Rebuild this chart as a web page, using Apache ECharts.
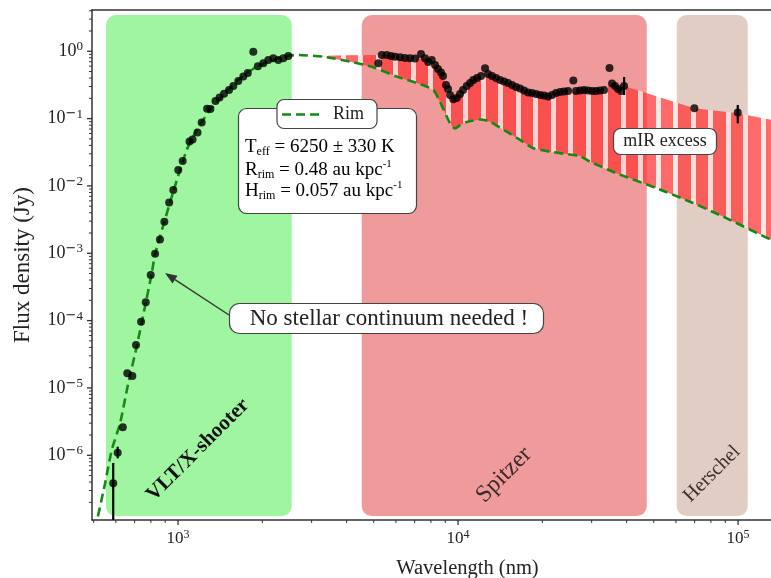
<!DOCTYPE html>
<html><head><meta charset="utf-8">
<script src="https://cdn.jsdelivr.net/npm/echarts@6/dist/echarts.min.js"></script>
<style>html,body{margin:0;padding:0;background:#fff}#c{width:771px;height:578px}</style>
</head><body><div id="c"></div>
<script>
// ---------------- data ----------------
const xTickExponents = [3, 4, 5];
const yTickExponents = [-6, -5, -4, -3, -2, -1, 0];
const xMajorTicks = [1e3, 1e4, 1e5];
const yMajorTicks = [1e-6, 1e-5, 1e-4, 1e-3, 1e-2, 1e-1, 1e0];
const minorMultipliers = [2, 3, 4, 5, 6, 7, 8, 9];
const xMinorDecades = [1e2, 1e3, 1e4, 1e5];
const yMinorDecades = [1e-7, 1e-6, 1e-5, 1e-4, 1e-3, 1e-2, 1e-1, 1e0];

// wavelength (nm), flux (Jy)
const vltPhotometry = [[587,3.84e-7],[609,1.09e-6],[635,2.6e-6],[659,1.65e-5],[687,1.5e-5],[708,4.35e-5],[738,9.6e-5],[767,1.87e-4],[799,4.76e-4],[828,9.8e-4],[862,1.60e-3],[894,2.94e-3],[930,5.68e-3],[962,8.71e-3],[1002,1.73e-2],[1039,2.35e-2],[1099,4.57e-2],[1127,4.90e-2],[1174,6.22e-2],[1215,8.76e-2],[1270,0.140],[1305,0.139],[1361,0.183],[1407,0.206],[1460,0.234],[1521,0.266],[1576,0.305],[1642,0.362],[1711,0.422],[1775,0.476],[1857,0.987],[1928,0.601],[2017,0.663],[2101,0.743],[2190,0.787],[2281,0.743],[2377,0.787],[2477,0.851]];

const spitzerSpectrum = [[5193,0.663],[5340,0.881],[5565,0.881],[5764,0.852],[5957,0.831],[6207,0.815],[6467,0.795],[6739,0.787],[7022,0.782],[7376,0.912],[7622,0.787],[7832,0.694],[8055,0.743],[8277,0.626],[8483,0.546],[8695,0.484],[8840,0.430],[9061,0.316],[9211,0.275],[9364,0.224],[9621,0.194],[9894,0.202],[10165,0.232],[10420,0.266],[10742,0.305],[11037,0.338],[11340,0.375],[11692,0.401],[12082,0.430],[12486,0.559],[12800,0.460],[13228,0.430],[13671,0.401],[14125,0.375],[14598,0.356],[15087,0.338],[15591,0.316],[16111,0.295],[16651,0.280],[17209,0.262],[17783,0.244],[18378,0.240],[18994,0.232],[19630,0.224],[20287,0.221],[20966,0.213],[21669,0.224],[22387,0.240],[23137,0.249],[23913,0.253],[24714,0.257],[25807,0.368],[26385,0.257],[27270,0.262],[28184,0.266],[29125,0.262],[30101,0.257],[31109,0.257],[32145,0.262],[33220,0.266],[34754,0.565],[35481,0.332],[36365,0.305],[37276,0.275],[38205,0.257],[39170,0.305]];

const herschelPhotometry = [[69823,0.142],[99750,0.123]];

// [wavelength, low, high]
const errorBars = [[587,5e-8,7.7e-7],[609,9.0e-7,1.34e-6],[39170,0.224,0.415],[99750,0.0852,0.159]];

const rimModel = [[505,7.76e-8],[549,3.84e-7],[580,1.20e-6],[621,2.98e-6],[664,1.17e-5],[712,4.10e-5],[762,1.61e-4],[806,5.05e-4],[828,9.66e-4],[962,8.22e-3],[1074,3.42e-2],[1166,6.78e-2],[1301,0.134],[1451,0.224],[1665,0.397],[1910,0.590],[2190,0.743],[2444,0.851],[2654,0.881],[3303,0.831],[4115,0.701],[4983,0.579],[6040,0.420],[7316,0.327],[8163,0.266],[8625,0.177],[9061,0.113],[9441,0.0801],[9757,0.0713],[10165,0.0801],[10742,0.0891],[11985,0.0971],[13013,0.0900],[14927,0.0639],[16651,0.0482],[18578,0.0362],[21310,0.0323],[25807,0.0288],[27270,0.0279],[29610,0.0229],[36878,0.0154],[51250,0.00923],[67390,0.00583],[88620,0.00349],[131200,0.00158],[160000,0.00106]];

// top edge of the hatched "mIR excess" region
const excessUpper = [[3100,0.85],[4000,0.87],[5340,0.881],[5565,0.881],[5764,0.852],[5957,0.831],[6207,0.815],[6467,0.795],[6739,0.787],[7022,0.782],[7622,0.787],[8055,0.743],[8277,0.626],[8483,0.546],[8695,0.484],[8840,0.430],[9061,0.316],[9364,0.224],[9621,0.194],[9894,0.202],[10165,0.232],[10420,0.266],[10742,0.305],[11037,0.338],[11340,0.375],[11692,0.401],[12082,0.430],[12800,0.460],[13228,0.430],[13671,0.401],[14125,0.375],[14598,0.356],[15087,0.338],[15591,0.316],[16111,0.295],[16651,0.280],[17209,0.262],[17783,0.244],[18378,0.240],[18994,0.232],[19630,0.224],[20287,0.221],[20966,0.213],[21669,0.224],[22387,0.240],[23137,0.249],[23913,0.253],[24714,0.257],[26385,0.257],[27270,0.262],[28184,0.266],[29125,0.262],[30101,0.257],[31109,0.257],[32145,0.262],[33220,0.266],[35481,0.332],[36365,0.305],[37276,0.275],[38205,0.257],[39170,0.305],[69823,0.142],[99750,0.12],[160000,0.082]];

// instrument bands: [from nm, to nm, low Jy, high Jy]
const bandNames = ['VLT/X-shooter', 'Spitzer', 'Herschel'];
const bandRanges = [[553,2547,1.25e-7,3.46],[4529,47200,1.25e-7,3.46],[60400,108300,1.25e-7,3.46]];

// ---------------- styles ----------------
const FONT = 'Liberation Serif';
const bandColors = ['#a0f5a0', '#f09b9b', '#e1cdc3'];
const INK = '#222';
const X_MIN = 493, X_MAX = 237000, Y_MIN = 1.094e-7, Y_MAX = 4.1;

function makeHatch() {
  const c = document.createElement('canvas');
  c.width = 35; c.height = 4;
  const g = c.getContext('2d');
  g.fillStyle = 'rgba(255,55,55,0.75)';
  g.fillRect(0, 0, 35, 4);
  g.clearRect(8, 0, 5, 4); g.clearRect(26, 0, 5, 4);
  g.fillStyle = 'rgba(255,225,225,0.8)';
  g.fillRect(8, 0, 5, 4); g.fillRect(26, 0, 5, 4);
  return c;
}
const hatch = makeHatch();

function minorTicks(decades, lo, hi) {
  const out = [];
  decades.forEach(d => minorMultipliers.forEach(m => { const v = m * d; if (v > lo && v < hi) out.push(v); }));
  return out;
}
const xTickData = xMajorTicks.map(v => [v, 1, 5]).concat(minorTicks(xMinorDecades, X_MIN, X_MAX).map(v => [v, 1, 3]));
const yTickData = yMajorTicks.map(v => [1000, v, 5]).concat(minorTicks(yMinorDecades, Y_MIN, Y_MAX).map(v => [1000, v, 3]));

function expLabel(v, list) {
  const e = Math.round(Math.log10(v));
  if (Math.abs(Math.log10(v) - e) > 1e-6 || list.indexOf(e) < 0) return '';
  return '{b|10}' + (e < 0 ? '{n|\u2212}' : '') + '{s|' + Math.abs(e) + '}';
}
const xTickRich = {
  b: { fontFamily: FONT, fontSize: 17, lineHeight: 20, color: INK },
  s: { fontFamily: FONT, fontSize: 12, lineHeight: 12, verticalAlign: 'top', color: INK },
  n: { fontFamily: 'DejaVu Sans', fontSize: 12, lineHeight: 12, verticalAlign: 'top', color: INK }
};
const yTickRich = {
  b: { fontFamily: FONT, fontSize: 18, lineHeight: 22, color: INK },
  s: { fontFamily: FONT, fontSize: 13, lineHeight: 13, verticalAlign: 'top', color: INK },
  n: { fontFamily: 'DejaVu Sans', fontSize: 13, lineHeight: 13, verticalAlign: 'top', color: INK }
};

const chart = echarts.init(document.getElementById('c'), null, { renderer: 'canvas' });

const axisCommon = {
  type: 'log', logBase: 10,
  axisLine: { show: true, onZero: false, lineStyle: { color: '#333', width: 1.5 } },
  axisTick: { show: false },
  minorTick: { show: false },
  splitLine: { show: false }, minorSplitLine: { show: false },
  nameTextStyle: { fontFamily: FONT, color: INK }
};

const option = {
  animation: false,
  backgroundColor: '#fff',
  grid: { left: 92, top: 10, bottom: 58, right: -72, containLabel: false, outerBoundsMode: 'none' },
  xAxis: [
    Object.assign({}, axisCommon, {
      min: X_MIN, max: X_MAX, position: 'bottom',
      name: 'Wavelength (nm)', nameLocation: 'middle', nameGap: 38,
      nameTextStyle: { fontFamily: FONT, fontSize: 20.5, color: INK },
      axisLabel: { margin: 9, showMinLabel: false, showMaxLabel: false, formatter: v => expLabel(v, xTickExponents), rich: xTickRich }
    }),
    { type: 'log', min: X_MIN, max: X_MAX, position: 'top', axisLine: { show: true, lineStyle: { color: '#333', width: 1.5 } }, axisTick: { show: false }, axisLabel: { show: false }, splitLine: { show: false } }
  ],
  yAxis: Object.assign({}, axisCommon, {
    min: Y_MIN, max: Y_MAX,
    name: 'Flux density (Jy)', nameLocation: 'middle', nameGap: 58,
    nameTextStyle: { fontFamily: FONT, fontSize: 23, color: INK },
    axisLabel: { margin: 9, showMinLabel: false, showMaxLabel: false, formatter: v => expLabel(v, yTickExponents), rich: yTickRich }
  }),
  series: [
    {
      type: 'custom', name: 'bands', z: 1, silent: true,
      data: bandRanges,
      encode: { x: [0, 1], y: [2, 3] },
      renderItem: function (params, api) {
        const p0 = api.coord([api.value(0), api.value(3)]);
        const p1 = api.coord([api.value(1), api.value(2)]);
        return { type: 'rect', shape: { x: p0[0], y: p0[1], width: p1[0] - p0[0], height: p1[1] - p0[1], r: 10 },
                 style: { fill: bandColors[params.dataIndex] } };
      }
    },
    {
      type: 'custom', name: 'excess', z: 2, silent: true,
      data: [excessUpper[0]],
      renderItem: function (params, api) {
        const x0 = excessUpper[0][0], x1 = excessUpper[excessUpper.length - 1][0];
        const pts = excessUpper.map(p => api.coord(p));
        const lower = rimModel.filter(p => p[0] > x0 && p[0] <= x1).reverse();
        lower.forEach(p => pts.push(api.coord(p)));
        return { type: 'polygon', shape: { points: pts }, style: { fill: { image: hatch, repeat: 'repeat' } } };
      }
    },
    {
      type: 'line', name: 'Rim', z: 3, data: rimModel, showSymbol: false, smooth: 0.2, silent: true,
      lineStyle: { color: '#138a13', width: 2.6, type: [9, 5] }
    },
    {
      type: 'custom', name: 'errors', z: 4, silent: true,
      data: errorBars, encode: { x: 0, y: [1, 2] },
      renderItem: function (params, api) {
        const cs = params.coordSys;
        const a = api.coord([api.value(0), api.value(1)]);
        const b = api.coord([api.value(0), api.value(2)]);
        const ya = Math.min(a[1], cs.y + cs.height), yb = Math.max(b[1], cs.y);
        return { type: 'line', shape: { x1: a[0], y1: ya, x2: b[0], y2: yb }, style: { stroke: '#000', lineWidth: 2.2 } };
      }
    },
    { type: 'scatter', name: 'VLT', z: 5, data: vltPhotometry, symbolSize: 8, itemStyle: { color: '#000' }, silent: true },
    { type: 'scatter', name: 'Spitzer', z: 5, data: spitzerSpectrum, symbolSize: 8, itemStyle: { color: '#000' }, silent: true },
    { type: 'scatter', name: 'Herschel', z: 5, data: herschelPhotometry, symbolSize: 8, itemStyle: { color: '#000' }, silent: true },
    {
      type: 'custom', name: 'xticks', z: 6, silent: true, clip: false,
      data: xTickData, encode: { x: 0, y: 1 },
      renderItem: function (params, api) {
        const cs = params.coordSys;
        const x = api.coord([api.value(0), api.value(1)])[0];
        const y0 = cs.y + cs.height;
        return { type: 'line', shape: { x1: x, y1: y0, x2: x, y2: y0 + api.value(2) }, style: { stroke: '#333', lineWidth: api.value(2) > 4 ? 1.3 : 1 } };
      }
    },
    {
      type: 'custom', name: 'yticks', z: 6, silent: true, clip: false,
      data: yTickData, encode: { x: 0, y: 1 },
      renderItem: function (params, api) {
        const cs = params.coordSys;
        const y = api.coord([api.value(0), api.value(1)])[1];
        return { type: 'line', shape: { x1: cs.x, y1: y, x2: cs.x - api.value(2), y2: y }, style: { stroke: '#333', lineWidth: api.value(2) > 4 ? 1.3 : 1 } };
      }
    }
  ],
  graphic: [
    // band labels
    { type: 'text', x: 198, y: 450, rotation: Math.PI / 4, z: 50,
      style: { text: 'VLT/X-shooter', fontFamily: FONT, fontSize: 21, fontWeight: 'bold', fill: '#111', align: 'center', verticalAlign: 'middle' } },
    { type: 'text', x: 504, y: 475, rotation: Math.PI / 4, z: 50,
      style: { text: 'Spitzer', fontFamily: FONT, fontSize: 24, fill: '#3a2a2a', align: 'center', verticalAlign: 'middle' } },
    { type: 'text', x: 712, y: 474, rotation: Math.PI / 4, z: 50,
      style: { text: 'Herschel', fontFamily: FONT, fontSize: 20, fill: '#3a302b', align: 'center', verticalAlign: 'middle' } },
    // parameter box
    { type: 'rect', z: 60, shape: { x: 238.5, y: 108.5, width: 178, height: 105, r: 8 }, style: { fill: '#fff', stroke: '#444', lineWidth: 1.2 } },
    { type: 'text', z: 61, x: 245, y: 147,
      style: { text: '{m|T}{d|eff}{m| = 6250 \u00b1 330 K}', align: 'left', verticalAlign: 'middle',
        rich: { m: { fontFamily: FONT, fontSize: 19, lineHeight: 22, color: INK }, d: { fontFamily: FONT, fontSize: 12, lineHeight: 14, verticalAlign: 'bottom', color: INK } } } },
    { type: 'text', z: 61, x: 245, y: 170,
      style: { text: '{m|R}{d|rim}{m| = 0.48 au kpc}{p|-1}', align: 'left', verticalAlign: 'middle',
        rich: { m: { fontFamily: FONT, fontSize: 19, lineHeight: 22, color: INK }, d: { fontFamily: FONT, fontSize: 12, lineHeight: 14, verticalAlign: 'bottom', color: INK }, p: { fontFamily: FONT, fontSize: 11, lineHeight: 11, verticalAlign: 'top', color: INK } } } },
    { type: 'text', z: 61, x: 245, y: 191,
      style: { text: '{m|H}{d|rim}{m| = 0.057 au kpc}{p|-1}', align: 'left', verticalAlign: 'middle',
        rich: { m: { fontFamily: FONT, fontSize: 19, lineHeight: 22, color: INK }, d: { fontFamily: FONT, fontSize: 12, lineHeight: 14, verticalAlign: 'bottom', color: INK }, p: { fontFamily: FONT, fontSize: 11, lineHeight: 11, verticalAlign: 'top', color: INK } } } },
    // legend box
    { type: 'rect', z: 62, shape: { x: 277, y: 99.5, width: 100, height: 29, r: 7 }, style: { fill: '#fff', stroke: '#444', lineWidth: 1.2 } },
    { type: 'line', z: 63, shape: { x1: 282, y1: 114.5, x2: 321, y2: 114.5 }, style: { stroke: '#138a13', lineWidth: 2.6, lineDash: [9, 5] } },
    { type: 'text', z: 63, x: 333, y: 114.5, style: { text: 'Rim', fontFamily: FONT, fontSize: 18, fill: INK, align: 'left', verticalAlign: 'middle' } },
    // mIR excess
    { type: 'rect', z: 60, shape: { x: 613.5, y: 128.5, width: 103, height: 26, r: 7 }, style: { fill: '#fff', stroke: '#444', lineWidth: 1.2 } },
    { type: 'text', z: 61, x: 665, y: 141.5, style: { text: 'mIR excess', fontFamily: FONT, fontSize: 18, fill: INK, align: 'center', verticalAlign: 'middle' } },
    // No stellar continuum
    { type: 'line', z: 59, shape: { x1: 229, y1: 315, x2: 175, y2: 279.6 }, style: { stroke: '#333', lineWidth: 1.3 } },
    { type: 'polygon', z: 59, shape: { points: [[165, 273], [177.5, 275.8], [172.5, 283.4]] }, style: { fill: '#333' } },
    { type: 'rect', z: 60, shape: { x: 229.5, y: 303.5, width: 314, height: 30, r: 10 }, style: { fill: '#fff', stroke: '#444', lineWidth: 1.2 } },
    { type: 'text', z: 61, x: 389, y: 318.5, style: { text: 'No stellar continuum needed !', fontFamily: FONT, fontSize: 23, fill: INK, align: 'center', verticalAlign: 'middle' } }
  ]
};
chart.setOption(option);
</script>
</body></html>
